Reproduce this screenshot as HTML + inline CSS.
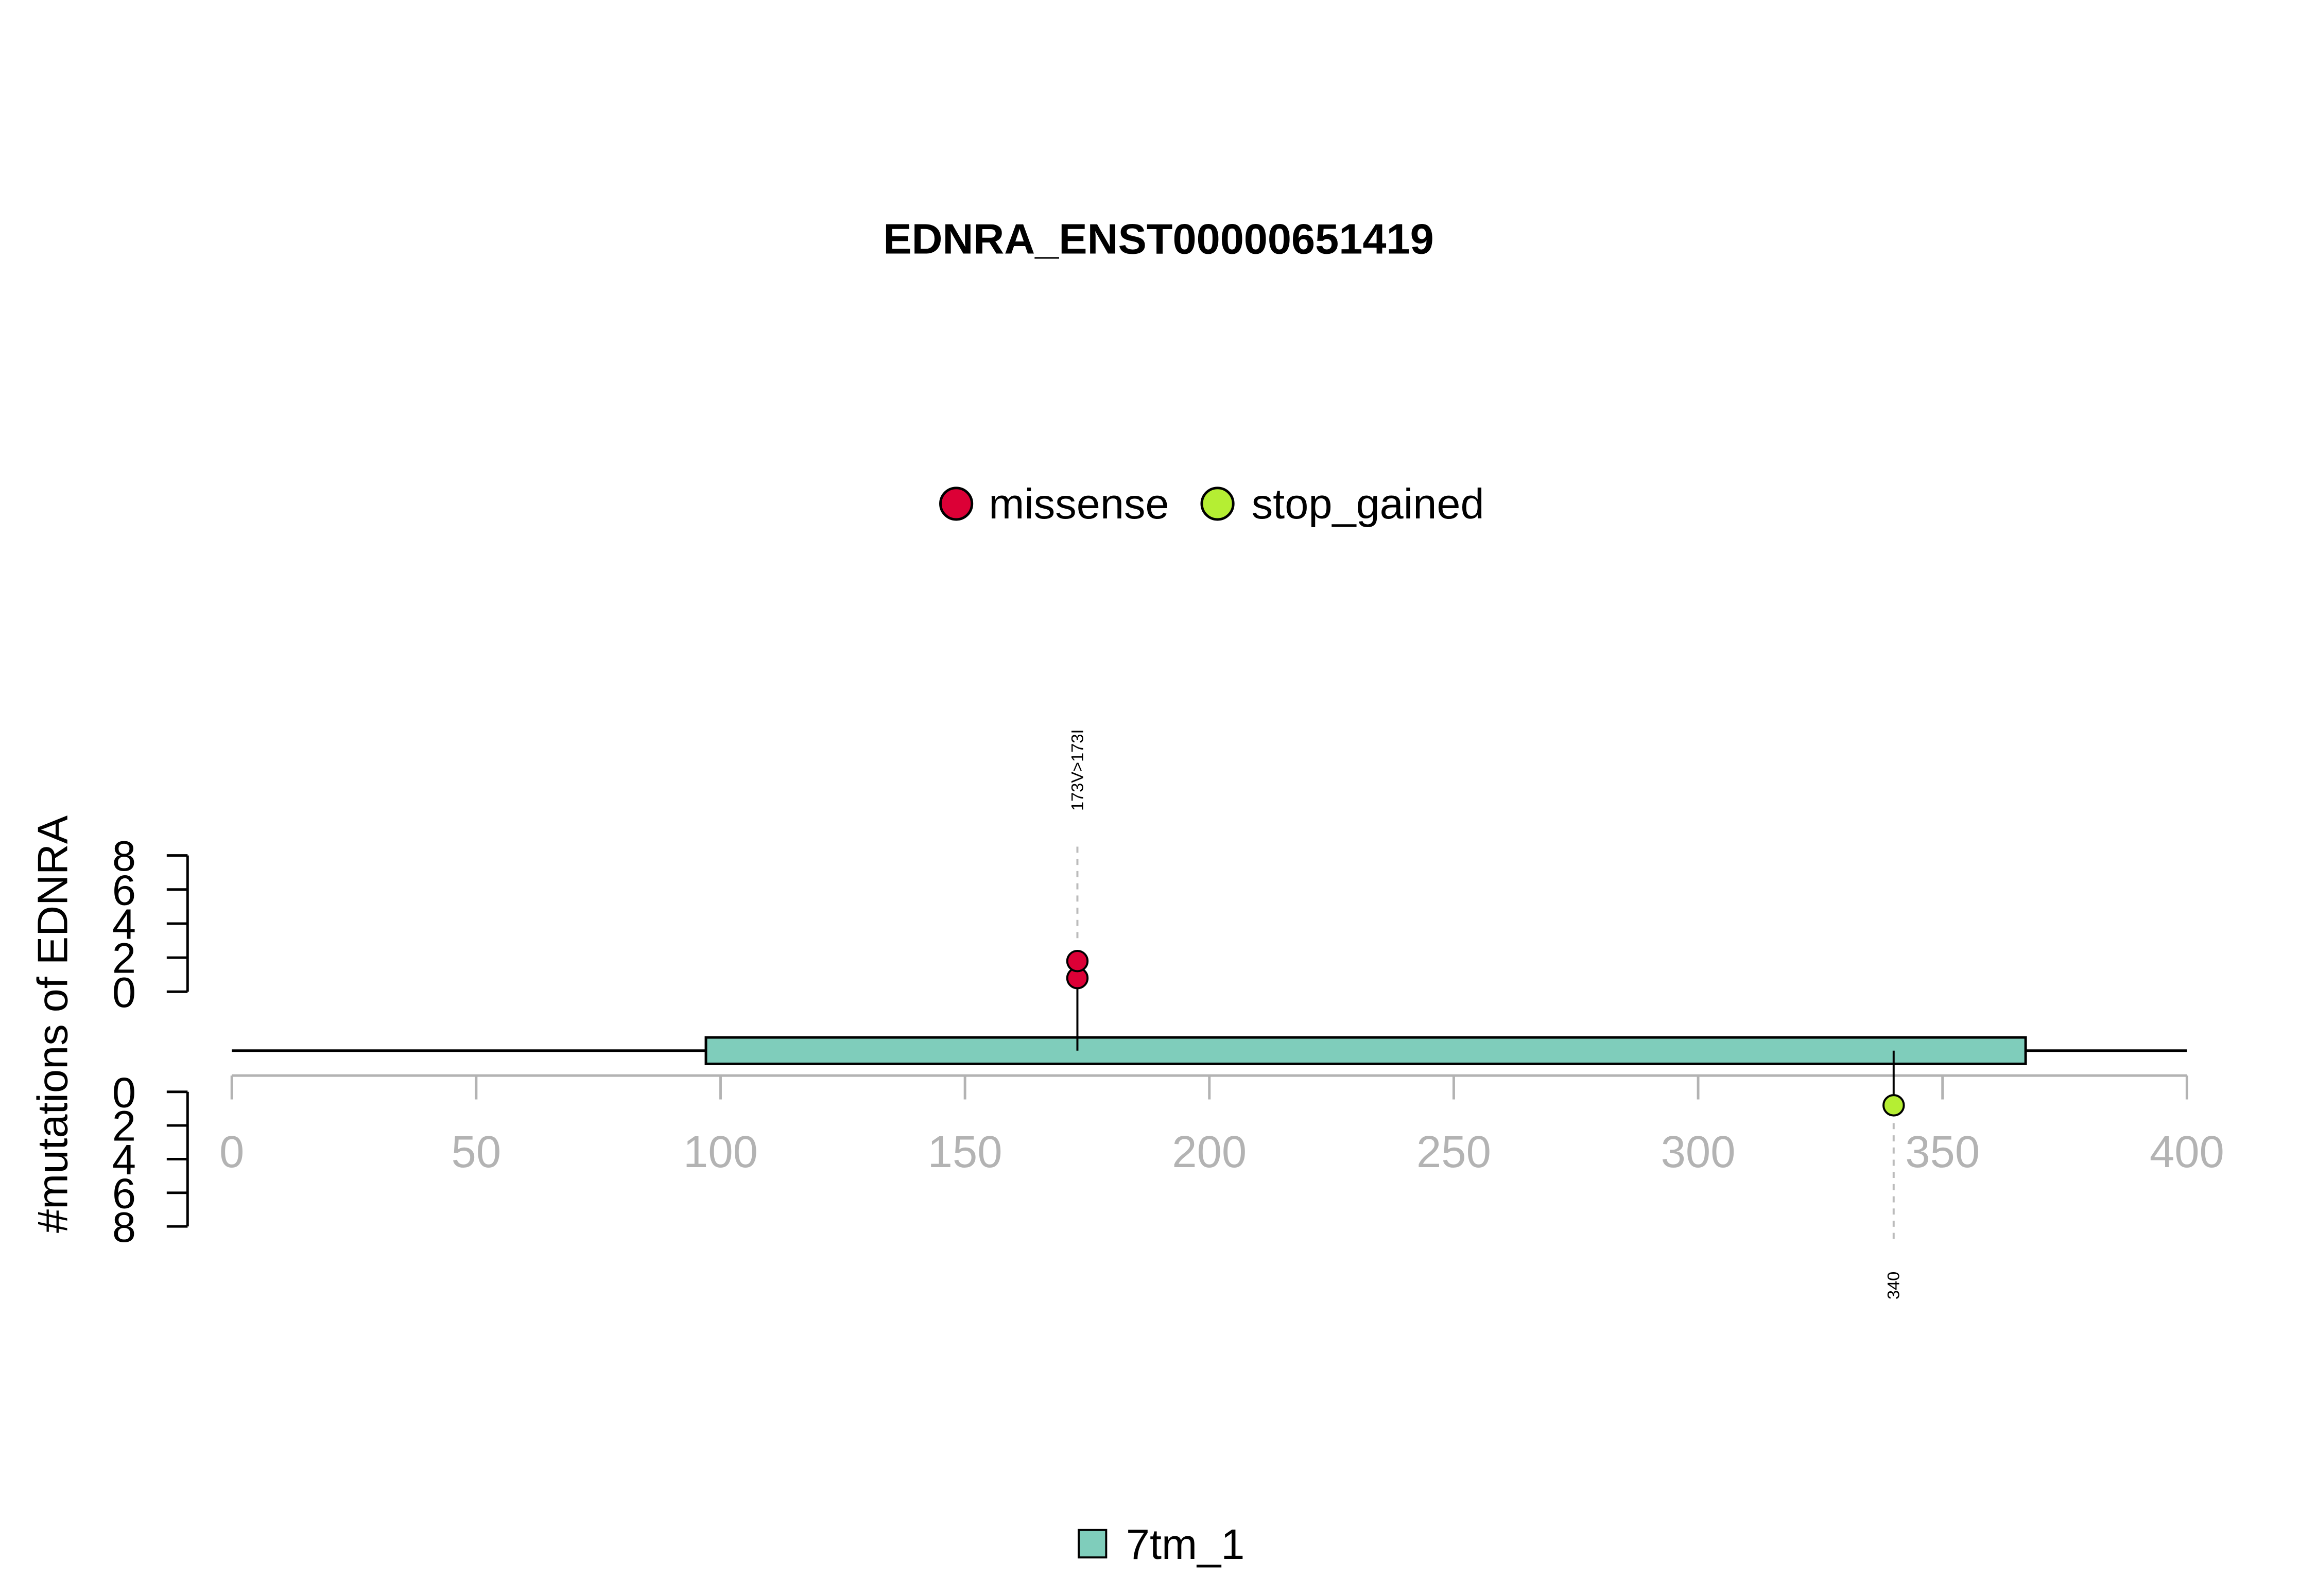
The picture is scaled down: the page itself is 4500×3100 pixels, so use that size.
<!DOCTYPE html>
<html><head><meta charset="utf-8"><style>
html,body{margin:0;padding:0;background:#fff;}
svg{display:block;font-family:"Liberation Sans",Arial,sans-serif;}
</style></head><body>
<svg id="chart" width="4500" height="3100" viewBox="0 0 4500 3100" xmlns="http://www.w3.org/2000/svg">
<rect width="4500" height="3100" fill="#fff"/>
<g transform="scale(0.9873)">
<text x="2279" y="499" font-size="84" font-weight="bold" text-anchor="middle">EDNRA_ENST00000651419</text>
<g>
<circle cx="1881" cy="991" r="31" fill="#dc0036" stroke="#000" stroke-width="5"/>
<text x="1945" y="1020" font-size="84">missense</text>
<circle cx="2395" cy="991" r="31" fill="#b5ee33" stroke="#000" stroke-width="5"/>
<text x="2462" y="1020" font-size="84">stop_gained</text>
</g>
<text transform="translate(132,2015) rotate(-90)" font-size="84" text-anchor="middle">#mutations of EDNRA</text>
<g id="plot"></g>
<g>
<rect x="2122" y="3010" width="54" height="54" fill="#7fcdbb" stroke="#000" stroke-width="4"/>
<text x="2215" y="3067" font-size="84">7tm_1</text>
</g>
</g>
</svg>
<script>
const xTicks=[0,50,100,150,200,250,300,350,400];
const yTicks=[0,2,4,6,8];
const geneLength=400;
const domainNames=["7tm_1"];
const domainStarts=[97];
const domainEnds=[367];
const upPositions=[173];
const upLabels=["173V>173I"];
const upCounts=[[0.8,1.8]];
const downPositions=[340];
const downLabels=["340"];
const downCounts=[[0.8]];

const NS="http://www.w3.org/2000/svg";
const g=document.getElementById('plot');
const X=v=>456+(v/400)*(4302-456);
const YU=v=>1951-v*33.5;
const YD=v=>2148+v*33.1;
function mk(t,a,p){const e=document.createElementNS(NS,t);for(const k in a)e.setAttribute(k,a[k]);(p||g).appendChild(e);return e;}

let ax=mk('line',{x1:X(0),x2:X(geneLength),y1:2116,y2:2116,stroke:'#b3b3b3','stroke-width':5});


xTicks.forEach(t=>{
  const l=mk('line',{x1:X(t),x2:X(t),y1:2116,y2:2163,stroke:'#b3b3b3','stroke-width':5});
  
  
  const tx=mk('text',{x:X(t),y:2296,'font-size':88,fill:'#b3b3b3','text-anchor':'middle'});
  tx.textContent=t;
  
  
});
[[YU,'upper'],[YD,'lower']].forEach(([Y,nm])=>{
  const l=mk('line',{x1:369,x2:369,y1:Y(0),y2:Y(8),stroke:'#000','stroke-width':5});
  
  
  yTicks.forEach(t=>{
    const k=mk('line',{x1:328,x2:369,y1:Y(t),y2:Y(t),stroke:'#000','stroke-width':5});
    
    
    const tx=mk('text',{x:244,y:Y(t)+30,'font-size':84,'text-anchor':'middle'});
    tx.textContent=t;
    
    
  });
});
const bb=mk('line',{x1:X(0),x2:X(geneLength),y1:2067,y2:2067,stroke:'#000','stroke-width':5});


domainStarts.forEach((s,i)=>{
  const r=mk('rect',{x:X(s),y:2041,width:X(domainEnds[i])-X(s),height:52,fill:'#7fcdbb',stroke:'#000','stroke-width':5});
  
  
});
upPositions.forEach((p,i)=>{
  const x=X(p),c=upCounts[i],top=c[c.length-1];
  const st=mk('line',{x1:x,x2:x,y1:2067,y2:YU(c[0]),stroke:'#000','stroke-width':4});
  
  
  const d=mk('line',{x1:x,x2:x,y1:YU(top)-45,y2:YU(8)-20,stroke:'#bbb','stroke-width':4,'stroke-dasharray':'12 12'});
  
  
  c.forEach(v=>{
    const ci=mk('circle',{cx:x,cy:YU(v),r:20,fill:'#dc0036',stroke:'#000','stroke-width':4});
    
    
  });
  const t=mk('text',{transform:`translate(${x+11},1515) rotate(-90)`,'font-size':33,'text-anchor':'middle'});
  t.textContent=upLabels[i];
  
  
});
downPositions.forEach((p,i)=>{
  const x=X(p),c=downCounts[i],bot=c[c.length-1];
  const st=mk('line',{x1:x,x2:x,y1:2067,y2:YD(c[0]),stroke:'#000','stroke-width':4});
  
  
  const d=mk('line',{x1:x,x2:x,y1:YD(bot)+35,y2:YD(8)+25,stroke:'#bbb','stroke-width':4,'stroke-dasharray':'12 12'});
  
  
  c.forEach(v=>{
    const ci=mk('circle',{cx:x,cy:YD(v),r:20,fill:'#b5ee33',stroke:'#000','stroke-width':4});
    
    
  });
  const t=mk('text',{transform:`translate(${x+11},2529) rotate(-90)`,'font-size':33,'text-anchor':'middle'});
  t.textContent=downLabels[i];
  
  
});
</script>
</body></html>
